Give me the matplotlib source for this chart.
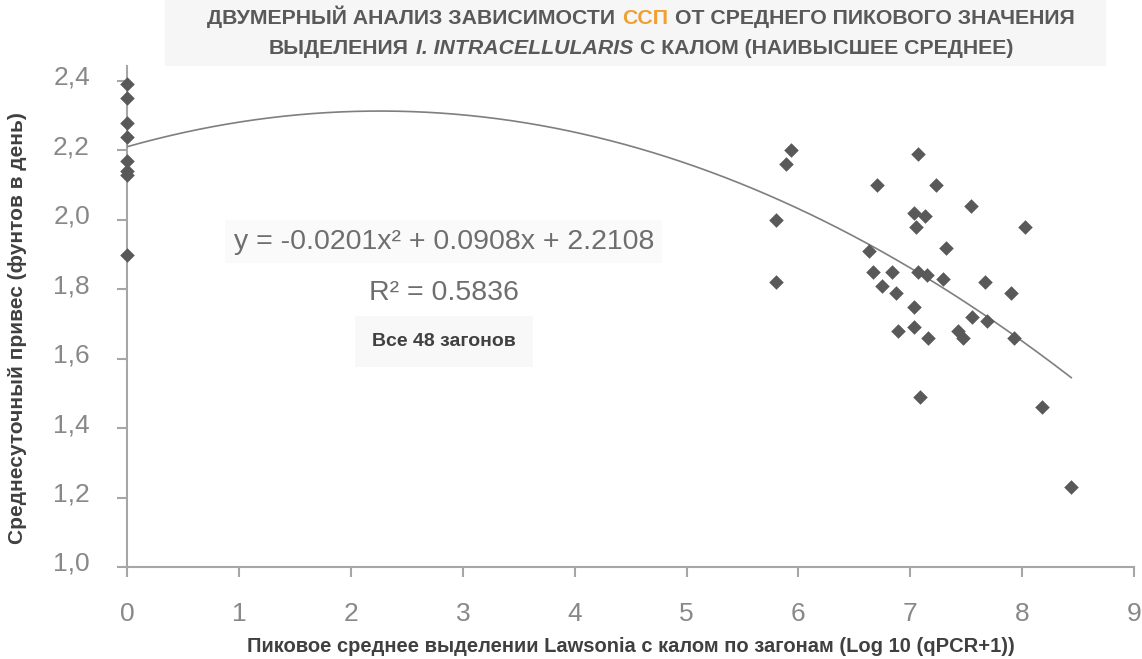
import numpy as np
import matplotlib
matplotlib.use("Agg")
import matplotlib.pyplot as plt
from matplotlib.offsetbox import TextArea, HPacker, VPacker, AnnotationBbox
from matplotlib.patches import Rectangle
from matplotlib.transforms import ScaledTranslation

# загоны: пиковое выделение (log10) и среднесуточный привес
pen_x = [0, 0, 0, 0, 0, 0, 0, 0,
         5.93, 5.89, 7.07, 6.70, 7.23, 7.54, 7.03, 7.13, 7.05, 8.03,
         5.80, 7.32, 6.63, 6.67, 6.84, 7.07, 7.15, 7.29, 7.67, 5.80,
         7.90, 6.75, 6.87, 7.03, 7.55, 7.69, 6.89, 7.03, 7.16, 7.43,
         7.47, 7.93, 7.09, 8.18, 8.44]
pen_adg = [2.39, 2.35, 2.28, 2.24, 2.17, 2.14, 2.13, 1.90,
           2.20, 2.16, 2.19, 2.10, 2.10, 2.04, 2.02, 2.01, 1.98, 1.98,
           2.00, 1.92, 1.91, 1.85, 1.85, 1.85, 1.84, 1.83, 1.82, 1.82,
           1.79, 1.81, 1.79, 1.75, 1.72, 1.71, 1.68, 1.69, 1.66, 1.68,
           1.66, 1.66, 1.49, 1.46, 1.23]

# коэффициенты полиномиального тренда (из подписи на графике)
coef = [-0.0201, 0.0908, 2.2108]
r2 = 0.5836

x_ticks = [0, 1, 2, 3, 4, 5, 6, 7, 8, 9]
y_ticks = [1.0, 1.2, 1.4, 1.6, 1.8, 2.0, 2.2, 2.4]
y_labels = ["1,0", "1,2", "1,4", "1,6", "1,8", "2,0", "2,2", "2,4"]

fam = ["Liberation Sans", "DejaVu Sans"]

fig = plt.figure(figsize=(11.42, 6.59), dpi=100)
ax = fig.add_axes([0.1116, 0.1396, 0.8813, 0.7602])

# фон заголовка
fig.add_artist(Rectangle((165 / 1142, 1 - 74 / 659), 940 / 1142, 74 / 659,
                         transform=fig.transFigure, color="#f6f6f6", zorder=0))

xx = np.linspace(0, max(pen_x), 200)
ax.plot(xx, np.polyval(coef, xx), color="#7f7f7f", lw=1.2, zorder=2)
ax.scatter(pen_x, pen_adg, marker="D", s=55, color="#595959", zorder=3, clip_on=False,
           linewidths=0)

ax.set_xlim(0, 9)
ax.set_ylim(1.0, 2.443)
ax.set_xticks(x_ticks)
ax.set_yticks(y_ticks)
ax.set_yticklabels(y_labels)
for s in ["top", "right"]:
    ax.spines[s].set_visible(False)
for s in ["left", "bottom"]:
    ax.spines[s].set_color("#a6a6a6")
    ax.spines[s].set_linewidth(1.5)
    ax.spines[s].set_zorder(1)
ax.tick_params(axis="both", colors="#a6a6a6", length=7, width=1.5,
               labelcolor="#888888", labelsize=19)
ax.tick_params(axis="x", pad=18)
ax.tick_params(axis="y", pad=20)
for lab in ax.get_xticklabels() + ax.get_yticklabels():
    lab.set_family(fam)
# подписи оси Y чуть выше рисок, как в оригинале
for lab in ax.get_yticklabels():
    lab.set_transform(lab.get_transform() + ScaledTranslation(0, 4 / 72, fig.dpi_scale_trans))

# подписи осей
fig.text(631 / 1142, 1 - 647 / 659,
         "Пиковое среднее выделении Lawsonia с калом по загонам (Log 10 (qPCR+1))",
         ha="center", va="center", fontsize=14.5, fontweight="bold", color="#404040",
         family=fam)
fig.text(18 / 1142, 1 - 328 / 659, "Среднесуточный привес (фунтов в день)",
         rotation=90, ha="center", va="center", fontsize=15, fontweight="bold",
         color="#404040", family=fam)

# уравнение тренда
ax.text(2.83, 1.937, "y = -0.0201x² + 0.0908x + 2.2108", ha="center", va="center",
        fontsize=20.5, color="#6e6e6e", family=fam,
        bbox=dict(facecolor="#fafafa", edgecolor="none", pad=6))
ax.text(2.83, 1.79, "R² = %.4f" % r2, ha="center", va="center",
        fontsize=20.5, color="#6e6e6e", family=fam)
ax.text(2.83, 1.65, "Все 48 загонов", ha="center", va="center", fontsize=14,
        fontweight="bold", color="#404040", family=fam,
        bbox=dict(facecolor="#f8f8f8", edgecolor="none", pad=12))

# заголовок в две строки, "ССП" оранжевым
tp = dict(color="#595959", fontsize=15.3, fontweight="bold", family=fam)
tp_or = dict(tp, color="#f0a030")
tp_it = dict(tp, style="italic")
line1 = HPacker(children=[TextArea("ДВУМЕРНЫЙ АНАЛИЗ ЗАВИСИМОСТИ", textprops=tp),
                          TextArea("ССП", textprops=tp_or),
                          TextArea("ОТ СРЕДНЕГО ПИКОВОГО ЗНАЧЕНИЯ", textprops=tp)],
                sep=5, pad=0, align="baseline")
line2 = HPacker(children=[TextArea("ВЫДЕЛЕНИЯ", textprops=tp),
                          TextArea("I. INTRACELLULARIS", textprops=tp_it),
                          TextArea("С КАЛОМ (НАИВЫСШЕЕ СРЕДНЕЕ)", textprops=tp)],
                sep=5, pad=0, align="baseline")
title = VPacker(children=[line1, line2], sep=8, pad=0, align="center")
fig.add_artist(AnnotationBbox(title, (641 / 1142, 1 - 32 / 659), xycoords="figure fraction",
                              frameon=False, box_alignment=(0.5, 0.5)))

fig.savefig("out.png", dpi=100)
